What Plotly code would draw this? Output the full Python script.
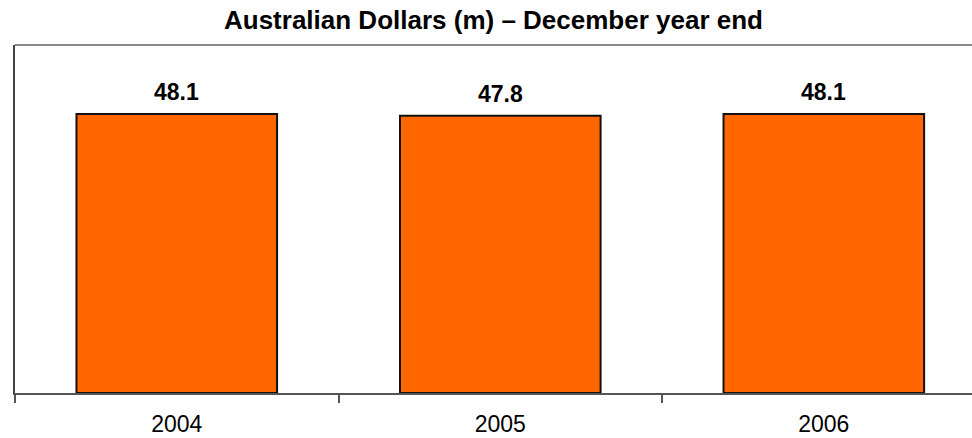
import plotly.graph_objects as go

years = ["2004", "2005", "2006"]
values = [48.1, 47.8, 48.1]
labels = ["48.1", "47.8", "48.1"]
title_text = "Australian Dollars (m) – December year end"

FONT = "Liberation Sans, Arial, sans-serif"

fig = go.Figure()
fig.add_trace(go.Bar(
    x=years, y=values, width=0.62,
    marker=dict(color="#FF6600", line=dict(color="#111111", width=2)),
    hoverinfo="skip",
))

for i, (v, t) in enumerate(zip(values, labels)):
    fig.add_annotation(x=i, y=v, xref="x", yref="y", text="<b>%s</b>" % t, showarrow=False,
                       yanchor="bottom", yshift=7,
                       font=dict(family=FONT, size=23, color="black"))

fig.add_shape(type="line", xref="paper", yref="paper", x0=0, x1=1, y0=1, y1=1,
              line=dict(color="#888888", width=2))

fig.update_layout(
    width=972, height=438,
    margin=dict(l=15, r=0, t=45, b=45),
    paper_bgcolor="white", plot_bgcolor="white",
    showlegend=False,
    title=dict(text="<b>%s</b>" % title_text, x=0.5, xref="paper", xanchor="center",
               y=1 - 20 / 438, yref="container", yanchor="middle",
               font=dict(family=FONT, size=26, color="black")),
    font=dict(family=FONT, color="black"),
    xaxis=dict(type="category", range=[-0.5, 2.458], showgrid=False,
               showline=True, linecolor="#555555", linewidth=2,
               ticks="outside", tickson="boundaries", ticklen=8, tickwidth=2,
               tickcolor="#555555", ticklabelstandoff=9,
               tickfont=dict(family=FONT, size=23, color="black")),
    yaxis=dict(range=[0, 60], showgrid=False, zeroline=False,
               showline=True, linecolor="#444444", linewidth=2,
               showticklabels=False, ticks=""),
)

fig.write_html("out.html")
